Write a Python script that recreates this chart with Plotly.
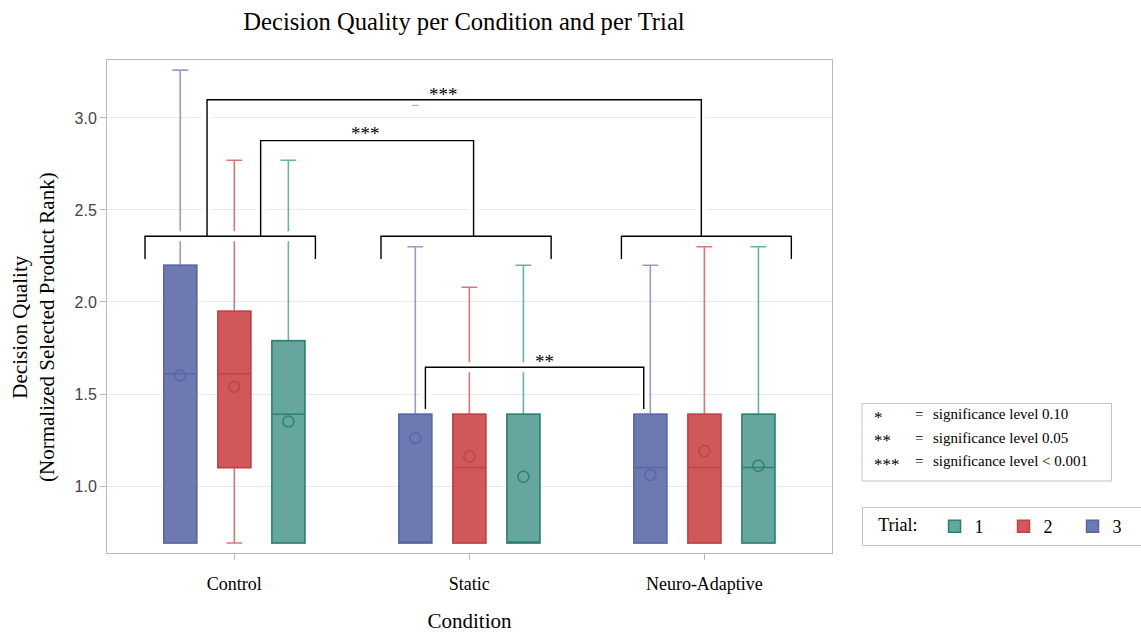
import plotly.graph_objects as go

# ---- data -------------------------------------------------------------
conditions = ["Control", "Static", "Neuro-Adaptive"]
trials = ["1", "2", "3"]

# summary statistics of the normalized selected product rank,
# one value per condition (Control, Static, Neuro-Adaptive)
q1 = {
    "1": [0.69, 0.69, 0.69],
    "2": [1.10, 0.69, 0.69],
    "3": [0.69, 0.69, 0.69],
}
median = {
    "1": [1.39, 0.69, 1.10],
    "2": [1.61, 1.10, 1.10],
    "3": [1.61, 0.69, 1.10],
}
q3 = {
    "1": [1.79, 1.39, 1.39],
    "2": [1.95, 1.39, 1.39],
    "3": [2.20, 1.39, 1.39],
}
lower_whisker = {
    "1": [0.69, 0.69, 0.69],
    "2": [0.69, 0.69, 0.69],
    "3": [0.69, 0.69, 0.69],
}
upper_whisker = {
    "1": [2.77, 2.20, 2.30],
    "2": [2.77, 2.08, 2.30],
    "3": [3.26, 2.30, 2.20],
}
mean = {
    "1": [1.35, 1.05, 1.11],
    "2": [1.54, 1.16, 1.19],
    "3": [1.60, 1.26, 1.06],
}
# outliers: trial -> (condition, value)
outliers = {"3": [("Static", 3.07)]}

# pairwise condition comparisons and their significance stars
comparisons = [
    ("Control", "Neuro-Adaptive", "***"),
    ("Control", "Static", "***"),
    ("Static", "Neuro-Adaptive", "**"),
]
sig_symbols = ["*", "**", "***"]
sig_levels = ["significance level 0.10", "significance level 0.05",
              "significance level < 0.001"]

# ---- styling ----------------------------------------------------------
SERIF = "Liberation Serif, Times New Roman, serif"
SANS = "Liberation Sans, Arial, sans-serif"

fill = {"3": "rgb(108,122,177)", "2": "rgb(208,88,88)", "1": "rgb(101,167,159)"}
edge = {"3": "rgb(88,103,164)", "2": "rgb(188,68,68)", "1": "rgb(46,128,114)"}
whisk = {"3": "rgb(146,157,206)", "2": "rgb(214,120,120)", "1": "rgb(104,178,168)"}
offset = {"3": -0.23, "2": 0.0, "1": 0.23}
BOX_W = 0.14

cat_idx = {c: i for i, c in enumerate(conditions)}

# plot-area geometry (pixels) used for paper-coordinate placement
L, R, T, B = 107, 832, 60, 553
W, H = 1141, 633


def px_x(px):
    return (px - L) / (R - L)


def px_y(py):
    return (B - py) / (B - T)


fig = go.Figure()

# whiskers + boxes: a lighter whisker layer, then the box body on top
for t in ["3", "2", "1"]:
    xs = [cat_idx[c] + offset[t] for c in conditions]
    fig.add_trace(go.Box(
        x=xs, q1=q1[t], median=median[t], q3=q3[t],
        lowerfence=lower_whisker[t], upperfence=upper_whisker[t],
        width=BOX_W, whiskerwidth=0.48, boxpoints=False,
        fillcolor=fill[t], line=dict(color=whisk[t], width=1.6),
        showlegend=False, hoverinfo="skip",
    ))
    fig.add_trace(go.Box(
        x=xs, q1=q1[t], median=median[t], q3=q3[t],
        lowerfence=q1[t], upperfence=q3[t],
        width=BOX_W, whiskerwidth=0, boxpoints=False,
        fillcolor=fill[t], line=dict(color=edge[t], width=1.5),
        name=t, legendrank=int(t), showlegend=True,
    ))
    fig.add_trace(go.Scatter(
        x=xs, y=mean[t], mode="markers", showlegend=False,
        marker=dict(symbol="circle-open", size=11, color=edge[t],
                    line=dict(width=1.5, color=edge[t])),
        hoverinfo="skip",
    ))
    for cond, val in outliers.get(t, []):
        fig.add_trace(go.Scatter(
            x=[cat_idx[cond] + offset[t]], y=[val], mode="markers",
            showlegend=False,
            marker=dict(symbol="line-ew", size=5, color=whisk[t],
                        line=dict(width=1.3, color=whisk[t])),
            hoverinfo="skip",
        ))

# ---- significance brackets -------------------------------------------
GROUP_TOP, GROUP_DROP = 2.357, 2.234
group_span = {"Control": (-0.38, 0.345), "Static": (-0.376, 0.348),
              "Neuro-Adaptive": (-0.353, 0.37)}
paths = []
for c in conditions:
    a, b = group_span[c]
    x0, x1 = cat_idx[c] + a, cat_idx[c] + b
    paths.append(f"M {x0},{GROUP_DROP} L {x0},{GROUP_TOP} L {x1},{GROUP_TOP} L {x1},{GROUP_DROP}")

# connector geometry per comparison: (left x, right x, top y, bottom y, label x, label y)
conn_geom = [
    (-0.116, 1.987, 3.099, GROUP_TOP, 0.891, 3.150),
    (0.112, 1.018, 2.877, GROUP_TOP, 0.560, 2.935),
    (0.813, 1.742, 1.645, 1.418, 1.318, 1.696),
]
labels = []
for (c0, c1, stars), (x0, x1, ytop, ybot, lx, ly) in zip(comparisons, conn_geom):
    paths.append(f"M {x0},{ybot} L {x0},{ytop} L {x1},{ytop} L {x1},{ybot}")
    labels.append((lx, ly, stars))

shapes = []
for p in paths:  # white halo so the brackets cut through whiskers and grid
    shapes.append(dict(type="path", path=p, xref="x", yref="y", layer="above",
                       line=dict(color="white", width=10)))
for p in paths:
    shapes.append(dict(type="path", path=p, xref="x", yref="y", layer="above",
                       line=dict(color="black", width=1.4)))

annotations = []
for lx, ly, stars in labels:
    annotations.append(dict(x=lx, y=ly, xref="x", yref="y", text=stars,
                            showarrow=False, yshift=-4,
                            font=dict(family=SERIF, size=19, color="black")))

# ---- significance key box --------------------------------------------
shapes.append(dict(type="rect", xref="paper", yref="paper",
                   x0=px_x(862), x1=px_x(1111.5), y0=px_y(481), y1=px_y(403.5),
                   line=dict(color="#c4c4c4", width=1), fillcolor="white"))
for i, (sym, lvl) in enumerate(zip(sig_symbols, sig_levels)):
    ry = px_y(414 + 23.5 * i)
    annotations.append(dict(x=px_x(872), y=ry, xref="paper", yref="paper",
                            text=sym, showarrow=False, xanchor="left",
                            yanchor="middle", yshift=-3,
                            font=dict(family=SERIF, size=17, color="black")))
    annotations.append(dict(x=px_x(919), y=ry, xref="paper", yref="paper",
                            text="=", showarrow=False, xanchor="center",
                            yanchor="middle",
                            font=dict(family=SERIF, size=15, color="black")))
    annotations.append(dict(x=px_x(931), y=ry, xref="paper", yref="paper",
                            text=lvl, showarrow=False, xanchor="left",
                            yanchor="middle",
                            font=dict(family=SERIF, size=15, color="black")))

# y-axis title (two lines)
annotations.append(dict(
    x=px_x(33), y=px_y(327), xref="paper", yref="paper",
    text="Decision Quality<br>(Normalized Selected Product Rank)",
    textangle=-90, showarrow=False, xanchor="center", yanchor="middle",
    font=dict(family=SERIF, size=21, color="black")))

fig.update_layout(
    width=W, height=H,
    margin=dict(l=L, r=W - R, t=T, b=H - B, autoexpand=False),
    paper_bgcolor="white", plot_bgcolor="white",
    title=dict(text="Decision Quality per Condition and per Trial",
               x=464 / W, xref="container", xanchor="center",
               y=1 - 21 / H, yref="container", yanchor="middle",
               font=dict(family=SERIF, size=24.6, color="black")),
    xaxis=dict(range=[-0.5417, 2.543], tickvals=list(range(len(conditions))),
               ticktext=conditions, showgrid=False, zeroline=False,
               showline=True, mirror=True, linecolor="#b9b9b9", linewidth=1,
               ticks="outside", ticklen=6, tickcolor="#b9b9b9",
               ticklabelstandoff=8,
               tickfont=dict(family=SERIF, size=18, color="black"),
               title=dict(text="Condition", standoff=21,
                          font=dict(family=SERIF, size=21, color="black"))),
    yaxis=dict(range=[0.636, 3.315], tickvals=[1.0, 1.5, 2.0, 2.5, 3.0],
               tickformat=".1f", showgrid=True, gridcolor="#e9e9e9",
               gridwidth=1.2, zeroline=False,
               showline=True, mirror=True, linecolor="#b9b9b9", linewidth=1,
               ticks="outside", ticklen=6, tickcolor="#b9b9b9",
               tickfont=dict(family=SANS, size=16, color="#444444")),
    legend=dict(orientation="h", x=px_x(862), y=px_y(507),
                xanchor="left", yanchor="top",
                bordercolor="#c4c4c4", borderwidth=1, bgcolor="white",
                font=dict(family=SERIF, size=18, color="black"),
                title=dict(text="   Trial:  ", side="left",
                           font=dict(family=SERIF, size=18, color="black")),
                entrywidth=24, traceorder="normal"),
    shapes=shapes,
    annotations=annotations,
    showlegend=True,
)

fig.write_html("out.html")
